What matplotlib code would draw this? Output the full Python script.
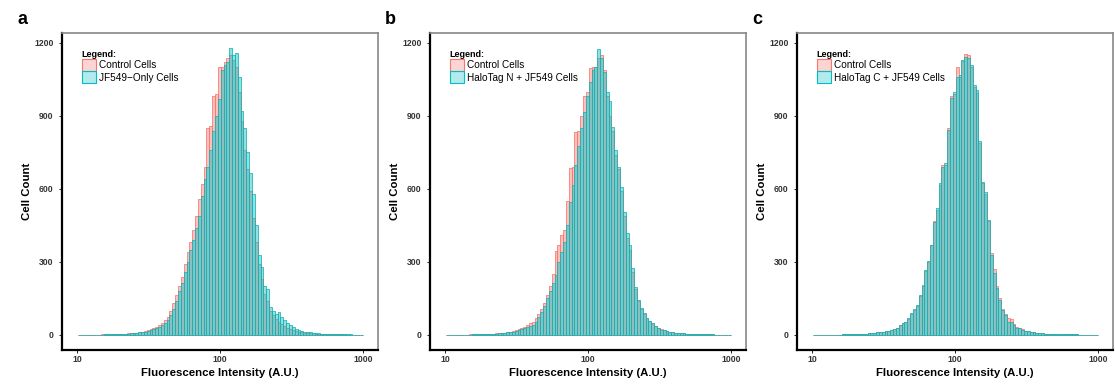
import numpy as np
import matplotlib
matplotlib.use("Agg")
import matplotlib.pyplot as plt
from matplotlib.patches import Patch

plt.rcParams['font.family'] = ['Liberation Sans', 'DejaVu Sans']

# histogram bins: 100 bins spaced evenly in log10(intensity)
log_lo, log_hi, n_bins = 1.01, 3.0, 100

# counts per bin
control_a = [0, 0, 0, 0, 1, 1, 1, 1, 2, 2,
             2, 3, 3, 3, 4, 4, 5, 6, 7, 8,
             9, 11, 13, 16, 20, 24, 28, 34, 40, 48,
             60, 75, 100, 130, 165, 200, 240, 290, 340, 380,
             430, 490, 560, 620, 690, 850, 860, 980, 990, 1100,
             1100, 1120, 1140, 1150, 1130, 1100, 1000, 880, 760, 680,
             590, 480, 380, 290, 230, 170, 140, 100, 80, 65,
             55, 45, 38, 30, 25, 20, 16, 13, 11, 9,
             8, 7, 6, 5, 4, 4, 3, 3, 3, 2,
             2, 2, 2, 2, 1, 1, 1, 1, 1, 1]
jf549_only = [0, 0, 0, 0, 1, 1, 1, 1, 1, 2,
              2, 2, 3, 3, 3, 4, 4, 5, 6, 7,
              8, 10, 12, 14, 17, 20, 24, 28, 33, 40,
              48, 60, 80, 105, 140, 180, 215, 260, 300, 350,
              390, 440, 490, 570, 640, 690, 760, 840, 900, 970,
              1090, 1110, 1120, 1180, 1150, 1160, 1060, 920, 850, 750,
              665, 580, 450, 330, 280, 200, 190, 115, 100, 85,
              95, 75, 60, 48, 40, 32, 26, 21, 17, 14,
              12, 10, 8, 7, 6, 5, 5, 4, 4, 3,
              3, 3, 2, 2, 4, 2, 1, 1, 1, 1]

control_b = [0, 0, 0, 0, 1, 1, 1, 1, 2, 2,
             2, 3, 3, 3, 4, 4, 5, 6, 7, 8,
             9, 11, 13, 16, 20, 24, 28, 34, 40, 48,
             55, 70, 85, 105, 130, 165, 200, 250, 343, 370,
             411, 430, 550, 685, 690, 836, 840, 900, 980, 1000,
             1096, 1100, 1100, 1140, 1150, 1090, 980, 900, 840, 740,
             680, 590, 490, 400, 350, 260, 190, 140, 105, 85,
             70, 58, 48, 38, 30, 25, 20, 16, 13, 11,
             9, 8, 7, 6, 5, 4, 4, 3, 3, 3,
             2, 2, 2, 2, 1, 1, 1, 1, 1, 1]
halotag_n = [0, 0, 0, 0, 1, 1, 1, 1, 1, 2,
             2, 2, 3, 3, 3, 4, 4, 5, 6, 7,
             8, 10, 12, 14, 17, 20, 24, 28, 33, 38,
             41, 55, 75, 96, 117, 151, 180, 215, 247, 300,
             340, 380, 450, 548, 617, 700, 775, 850, 915, 980,
             1040, 1090, 1103, 1175, 1140, 1080, 1000, 960, 856, 760,
             692, 610, 507, 420, 370, 274, 199, 144, 110, 89,
             68, 58, 48, 35, 30, 22, 20, 15, 12, 10,
             9, 8, 7, 6, 5, 4, 4, 3, 3, 3,
             2, 2, 2, 2, 1, 1, 1, 1, 1, 1]

control_c = [0, 0, 0, 0, 0, 1, 1, 1, 1, 1,
             2, 2, 2, 3, 3, 3, 4, 4, 5, 6,
             7, 8, 10, 12, 14, 16, 18, 22, 26, 30,
             40, 47, 54, 66, 88, 103, 120, 160, 200, 262,
             300, 368, 470, 515, 618, 700, 700, 850, 980, 990,
             1100, 1060, 1125, 1155, 1150, 1100, 1020, 995, 790, 625,
             580, 470, 335, 270, 200, 150, 108, 85, 68, 65,
             45, 32, 28, 23, 18, 15, 12, 10, 8, 7,
             6, 5, 5, 4, 4, 3, 3, 3, 2, 2,
             2, 2, 2, 1, 1, 1, 1, 1, 1, 1]
halotag_c = [0, 0, 0, 0, 0, 1, 1, 1, 1, 1,
             2, 2, 2, 3, 3, 3, 4, 4, 5, 6,
             7, 8, 10, 12, 14, 16, 18, 22, 26, 30,
             41, 48, 55, 68, 89, 105, 123, 164, 206, 267,
             302, 370, 466, 520, 623, 692, 706, 843, 972, 1000,
             1060, 1069, 1130, 1144, 1137, 1110, 1028, 1007, 797, 630,
             589, 473, 329, 254, 192, 144, 103, 82, 55, 52,
             41, 30, 28, 22, 18, 15, 12, 10, 8, 7,
             6, 5, 5, 4, 4, 3, 3, 3, 2, 2,
             2, 2, 2, 1, 1, 1, 1, 1, 1, 1]

panel_letters = ['a', 'b', 'c']
sample_labels = ['JF549\u2212Only Cells', 'HaloTag N + JF549 Cells', 'HaloTag C + JF549 Cells']
controls = [control_a, control_b, control_c]
samples = [jf549_only, halotag_n, halotag_c]

pink = '#F8766D'
teal = '#00BFC4'
pink_fill = (0.973, 0.463, 0.427, 0.45)
teal_fill = (0.0, 0.749, 0.769, 0.45)

edges = 10 ** np.linspace(log_lo, log_hi, n_bins + 1)
widths = np.diff(edges)

fig = plt.figure(figsize=(11.15, 3.88), dpi=100)
lefts = [62, 430, 797]

for k in range(3):
    ax = fig.add_axes([lefts[k] / 1115, 1 - 350 / 388, 316 / 1115, 317 / 388])
    ax.bar(edges[:-1], controls[k], width=widths, align='edge',
           facecolor=pink_fill, edgecolor=pink, linewidth=0.55)
    ax.bar(edges[:-1], samples[k], width=widths, align='edge',
           facecolor=teal_fill, edgecolor='#17B3B6', linewidth=0.55)

    ax.set_xscale('log')
    ax.set_xlim(10 ** 0.895, 10 ** 3.105)
    ax.set_ylim(-62, 1241)
    ax.set_xticks([10, 100, 1000])
    ax.set_xticklabels(['10', '100', '1000'])
    ax.minorticks_off()
    ax.set_yticks([0, 300, 600, 900, 1200])
    ax.tick_params(length=2, width=0.6, labelsize=6.2, labelcolor='#333333')
    ax.tick_params(axis='x', pad=1.5)
    ax.tick_params(axis='y', pad=4)
    for t in ax.get_xticklabels() + ax.get_yticklabels():
        t.set_fontweight('bold')

    for s in ['left', 'bottom']:
        ax.spines[s].set_color('black')
        ax.spines[s].set_linewidth(1.6)
    for s in ['top', 'right']:
        ax.spines[s].set_color('#888888')
        ax.spines[s].set_linewidth(1.2)

    ax.set_xlabel('Fluorescence Intensity (A.U.)', fontsize=8.2, fontweight='bold')
    ax.set_ylabel('Cell Count', fontsize=8.2, fontweight='bold')
    ax.xaxis.set_label_coords(0.5, -0.058)
    ax.yaxis.set_label_coords(-0.095, 0.5)

    handles = [Patch(facecolor=(0.973, 0.463, 0.427, 0.3), edgecolor=pink, linewidth=0.8),
               Patch(facecolor=(0.0, 0.749, 0.769, 0.3), edgecolor=teal, linewidth=0.8)]
    ax.legend(handles, ['Control Cells', sample_labels[k]], title='Legend:',
              loc='upper left', bbox_to_anchor=(0.04, 0.97), frameon=False,
              fontsize=7.2, handlelength=1.45, handleheight=1.45,
              labelspacing=0.05, handletextpad=0.3, borderpad=0.2,
              alignment='left',
              title_fontproperties={'size': 6.5, 'weight': 'bold'})

    fig.text((lefts[k] - 45) / 1115, 1 - 19 / 388, panel_letters[k],
             fontsize=13, fontweight='bold', ha='left', va='center')

fig.savefig('out.png', dpi=100)
